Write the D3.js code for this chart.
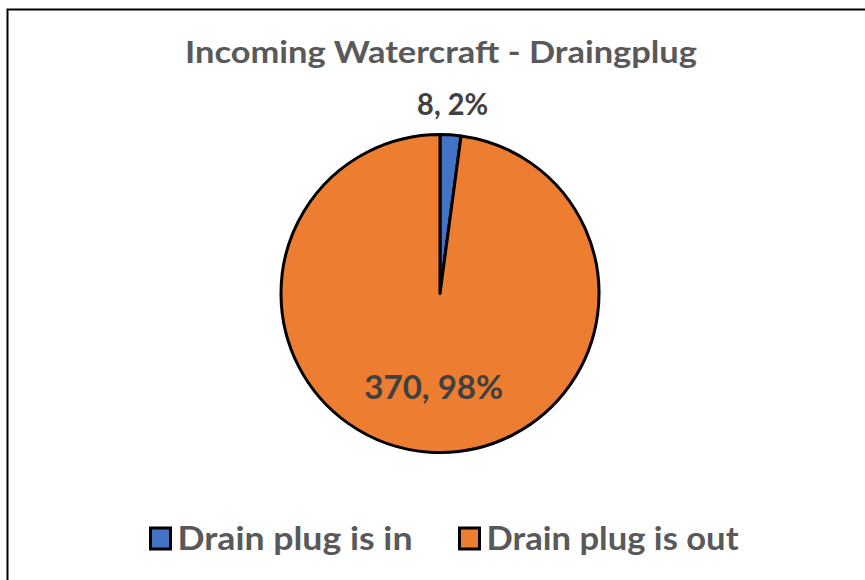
<!DOCTYPE html>
<html>
<head>
<meta charset="utf-8">
<script src="https://cdn.jsdelivr.net/npm/d3@7"></script>
<style>
  body { margin: 0; background: #fff; }
  text { font-family: Lato, "Open Sans", sans-serif; font-weight: bold; }
</style>
</head>
<body>
<script>
// chart data
var categories = ["Drain plug is in", "Drain plug is out"];
var counts = [8, 370];
var colors = ["#4472C4", "#ED7D31"];
var titleText = "Incoming Watercraft - Draingplug";

var width = 865, height = 580;
var cx = 440, cy = 293.5, radius = 159;

var svg = d3.select("body").append("svg")
	.attr("width", width).attr("height", height);

// chart frame (only top and left edges show in the picture)
svg.append("rect")
	.attr("x", 7.5).attr("y", 9.5)
	.attr("width", 900).attr("height", 600)
	.attr("fill", "none").attr("stroke", "#000").attr("stroke-width", 2);

svg.append("text")
	.attr("x", 441).attr("y", 63.3)
	.attr("text-anchor", "middle")
	.attr("font-size", 30)
	.attr("fill", "#595959")
	.attr("textLength", 512).attr("lengthAdjust", "spacingAndGlyphs")
	.text(titleText);

var total = d3.sum(counts);
var rows = categories.map(function(c, i) { return { name: c, value: counts[i], color: colors[i] }; });

var pie = d3.pie().sort(null).value(function(d) { return d.value; });
var arc = d3.arc().innerRadius(0).outerRadius(radius);
var arcs = pie(rows);

var g = svg.append("g").attr("transform", "translate(" + cx + "," + cy + ")");

g.selectAll("path.slice")
	.data(arcs)
	.enter().append("path")
	.attr("class", "slice")
	.attr("d", arc)
	.attr("fill", function(d) { return d.data.color; })
	.attr("stroke", "#000")
	.attr("stroke-width", 3)
	.attr("stroke-linejoin", "round");

// labels: small slice sits outside, large one inside
var insideArc = d3.arc().innerRadius(0).outerRadius(189);
var outsideArc = d3.arc().innerRadius(190).outerRadius(190);
var labelWidths = [71, 139];
var labelSizes = [30, 32];

g.selectAll("text.lbl")
	.data(arcs)
	.enter().append("text")
	.attr("class", "lbl")
	.attr("text-anchor", "middle")
	.attr("fill", "#404040")
	.attr("font-size", function(d, i) { return labelSizes[i]; })
	.attr("textLength", function(d, i) { return labelWidths[i]; })
	.attr("lengthAdjust", "spacingAndGlyphs")
	.attr("x", function(d) {
		var p = (d.value / total < 0.1 ? outsideArc : insideArc).centroid(d);
		return p[0];
	})
	.attr("y", function(d, i) {
		var p = (d.value / total < 0.1 ? outsideArc : insideArc).centroid(d);
		return p[1] + labelSizes[i] * 0.36;
	})
	.text(function(d) { return d.value + ", " + Math.round(d.value / total * 100) + "%"; });

// legend
var legendX = [150.5, 459.5];
var legendTextW = [235, 252];
var legend = svg.selectAll("g.leg")
	.data(rows)
	.enter().append("g")
	.attr("class", "leg")
	.attr("transform", function(d, i) { return "translate(" + legendX[i] + ",528)"; });

legend.append("rect")
	.attr("width", 20).attr("height", 21)
	.attr("fill", function(d) { return d.color; })
	.attr("stroke", "#000").attr("stroke-width", 3);

legend.append("text")
	.attr("x", 27).attr("y", 22)
	.attr("font-size", 32)
	.attr("fill", "#595959")
	.attr("textLength", function(d, i) { return legendTextW[i]; })
	.attr("lengthAdjust", "spacingAndGlyphs")
	.text(function(d) { return d.name; });
</script>
</body>
</html>
